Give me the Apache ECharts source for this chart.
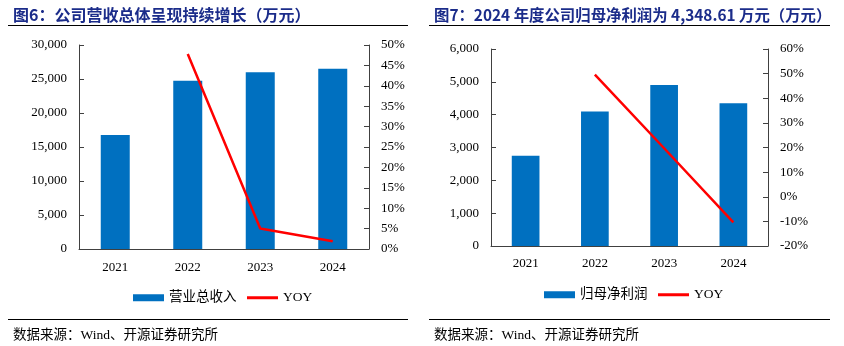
<!DOCTYPE html>
<html>
<head>
<meta charset="utf-8">
<script src="https://cdn.jsdelivr.net/npm/echarts@6/dist/echarts.min.js"></script>
<style>
  html, body { margin: 0; padding: 0; background: #fff; }
  #chart { width: 844px; height: 346px; }
</style>
</head>
<body>
<div id="chart"></div>
<script>
// Shared categories
var years = ['2021', '2022', '2023', '2024'];

// 图6: 营业总收入 (万元) and YoY (%)
var revenue = [16750, 24750, 26000, 26500];
var revenueYoy = [null, 47.8, 5.0, 1.9];

// 图7: 归母净利润 (万元) and YoY (%)
var netProfit = [2750, 4100, 4900, 4348.61];
var netProfitYoy = [null, 49.6, 19.7, -10.4];

// Axis ranges and tick steps
var revAxis = { min: 0, max: 30000, step: 5000 };
var revYoyAxis = { min: 0, max: 50, step: 5 };
var npAxis = { min: 0, max: 6000, step: 1000 };
var npYoyAxis = { min: -20, max: 60, step: 10 };

var titles = [
  '图6：公司营收总体呈现持续增长（万元）',
  '图7：2024 年度公司归母净利润为 4,348.61 万元（万元）'
];
var sourceText = '数据来源：Wind、开源证券研究所';

var BLUE = '#0070C0';
var RED = '#FF0000';
var NAVY = '#1B2C8A';
var AXIS = '#404040';
var SERIF = '"Liberation Serif", "Times New Roman", "Noto Sans CJK SC", serif';
var CJK = '"Liberation Serif", "Noto Sans CJK SC", serif';

function thousands(v) {
  return String(v).replace(/\B(?=(\d{3})+(?!\d))/g, ',');
}

function xAxisFor(gridIndex, margin) {
  return {
    type: 'category',
    gridIndex: gridIndex,
    data: years,
    boundaryGap: true,
    axisLine: { lineStyle: { color: AXIS, width: 1 } },
    axisTick: { inside: true, length: 5, lineStyle: { color: AXIS } },
    axisLabel: { color: '#000', fontFamily: SERIF, fontSize: 13, margin: margin }
  };
}

function valueAxis(gridIndex, range, position, fmt) {
  return {
    type: 'value',
    gridIndex: gridIndex,
    position: position,
    min: range.min,
    max: range.max,
    interval: range.step,
    splitLine: { show: false },
    axisLine: { show: true, lineStyle: { color: AXIS, width: 1 } },
    axisTick: { show: true, inside: true, length: 5, lineStyle: { color: AXIS } },
    axisLabel: { color: '#000', fontFamily: SERIF, fontSize: 13, margin: 12, formatter: fmt }
  };
}

function titleStyle(size) {
  return { color: NAVY, fontSize: size, fontWeight: 'bold', fontFamily: '"Noto Sans CJK SC", sans-serif' };
}
var sourceStyle = { color: '#000', fontSize: 13.5, fontWeight: 'normal', fontFamily: CJK };
var legendText = { color: '#000', fontSize: 13.5, fontFamily: CJK };

var chart = echarts.init(document.getElementById('chart'), null, { renderer: 'canvas' });

chart.setOption({
  animation: false,
  backgroundColor: '#fff',
  title: [
    { text: titles[0], left: 8, top: 2, textStyle: titleStyle(16) },
    { text: titles[1], left: 429, top: 2.5, textStyle: titleStyle(15.4) },
    { text: sourceText, left: 8, top: 324, textStyle: sourceStyle },
    { text: sourceText, left: 429, top: 324, textStyle: sourceStyle }
  ],
  grid: [
    { left: 79, right: 475, top: 45, bottom: 97 },
    { left: 491, right: 76, top: 49, bottom: 100 }
  ],
  legend: [
    {
      left: 128, top: 286, itemWidth: 31, itemHeight: 7, itemGap: 9,
      data: [
        { name: '营业总收入', icon: 'rect' },
        { name: 'YOY', itemStyle: { opacity: 0 }, lineStyle: { width: 3 } }
      ],
      textStyle: legendText
    },
    {
      left: 539, top: 283, itemWidth: 31, itemHeight: 7, itemGap: 9,
      data: [
        { name: '归母净利润', icon: 'rect' },
        { name: 'YOY ', itemStyle: { opacity: 0 }, lineStyle: { width: 3 } }
      ],
      textStyle: legendText
    }
  ],
  xAxis: [ xAxisFor(0, 12), xAxisFor(1, 11) ],
  yAxis: [
    valueAxis(0, revAxis, 'left', function (v) { return thousands(v); }),
    valueAxis(0, revYoyAxis, 'right', '{value}%'),
    valueAxis(1, npAxis, 'left', function (v) { return thousands(v); }),
    valueAxis(1, npYoyAxis, 'right', '{value}%')
  ],
  series: [
    {
      name: '营业总收入', type: 'bar', xAxisIndex: 0, yAxisIndex: 0,
      data: revenue, barWidth: '40%', itemStyle: { color: BLUE }
    },
    {
      name: 'YOY', type: 'line', xAxisIndex: 0, yAxisIndex: 1,
      data: revenueYoy, symbol: 'none', connectNulls: false,
      lineStyle: { color: RED, width: 2.5 }, itemStyle: { color: RED }
    },
    {
      name: '归母净利润', type: 'bar', xAxisIndex: 1, yAxisIndex: 2,
      data: netProfit, barWidth: '40%', itemStyle: { color: BLUE }
    },
    {
      name: 'YOY ', type: 'line', xAxisIndex: 1, yAxisIndex: 3,
      data: netProfitYoy, symbol: 'none', connectNulls: false,
      lineStyle: { color: RED, width: 2.5 }, itemStyle: { color: RED }
    }
  ],
  graphic: [
    { type: 'line', shape: { x1: 8, y1: 25.5, x2: 408, y2: 25.5 }, style: { stroke: '#000', lineWidth: 1.2 } },
    { type: 'line', shape: { x1: 429, y1: 25.5, x2: 830, y2: 25.5 }, style: { stroke: '#000', lineWidth: 1.2 } },
    { type: 'line', shape: { x1: 8, y1: 319.5, x2: 408, y2: 319.5 }, style: { stroke: '#000', lineWidth: 1.2 } },
    { type: 'line', shape: { x1: 429, y1: 319.5, x2: 830, y2: 319.5 }, style: { stroke: '#000', lineWidth: 1.2 } }
  ]
});
</script>
</body>
</html>
